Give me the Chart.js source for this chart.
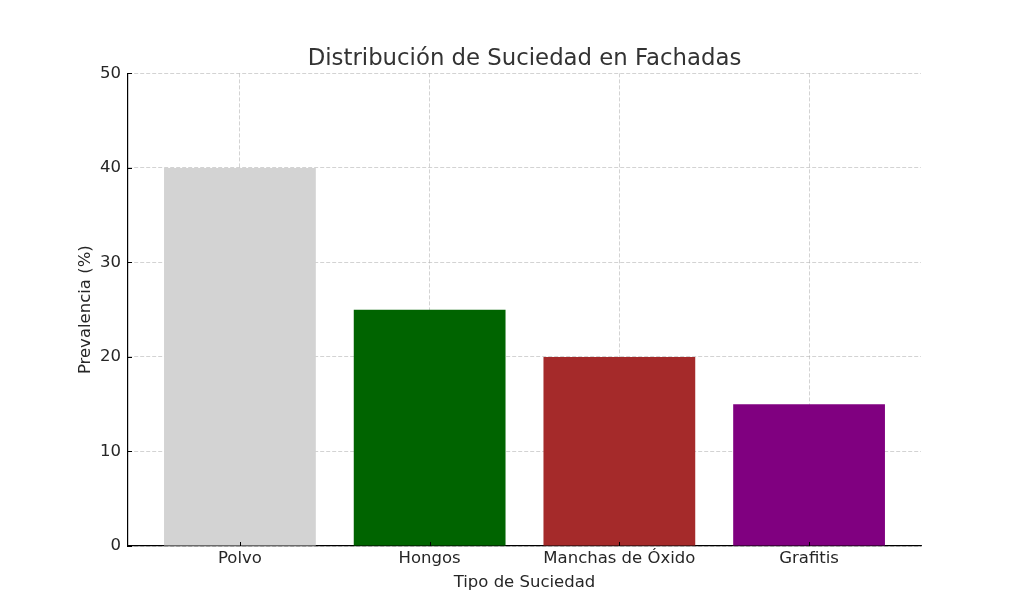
<!DOCTYPE html>
<html>
<head>
<meta charset="utf-8">
<script src="https://cdn.jsdelivr.net/npm/chart.js@4/dist/chart.umd.min.js"></script>
<style>
  html, body { margin: 0; padding: 0; background: #ffffff; }
  #wrap { width: 1024px; height: 614px; position: relative; }
</style>
</head>
<body>
<div id="wrap"><canvas id="c" width="1024" height="614"></canvas></div>
<script>
const categories = ["Polvo", "Hongos", "Manchas de Óxido", "Grafitis"];
const prevalence = [40, 25, 20, 15];
const barColors = ["#d3d3d3", "#006400", "#a52a2a", "#800080"];
const yTicks = [0, 10, 20, 30, 40, 50];

const FONT = "'DejaVu Sans', sans-serif";
const gridColor = "rgba(176,176,176,0.7)";

// inward tick marks (matplotlib-like), positioned through the chart's own scales
const inwardTicks = {
  id: "inwardTicks",
  afterDraw(chart) {
    const ctx = chart.ctx;
    const { x, y } = chart.scales;
    const area = chart.chartArea;
    ctx.save();
    ctx.strokeStyle = "#000000";
    ctx.lineWidth = 1;
    x.ticks.forEach(t => {
      const px = Math.round(x.getPixelForValue(t.value)) + 0.5;
      ctx.beginPath(); ctx.moveTo(px, area.bottom); ctx.lineTo(px, area.bottom - 4); ctx.stroke();
    });
    y.ticks.forEach(t => {
      const py = Math.round(y.getPixelForValue(t.value)) + 0.5;
      ctx.beginPath(); ctx.moveTo(area.left, py); ctx.lineTo(area.left + 4, py); ctx.stroke();
    });
    ctx.restore();
  }
};

new Chart(document.getElementById("c"), {
  type: "bar",
  data: {
    datasets: [{
      data: categories.map((c, i) => ({ x: i, y: prevalence[i] })),
      backgroundColor: barColors,
      borderWidth: 0,
      barPercentage: 0.8,
      categoryPercentage: 1.0
    }]
  },
  plugins: [inwardTicks],
  options: {
    responsive: false,
    animation: false,
    events: [],
    layout: { padding: { top: 45, right: 103, bottom: 0, left: 0 } },
    plugins: {
      legend: { display: false },
      tooltip: { enabled: false },
      title: {
        display: true,
        fullSize: false,
        text: "Distribución de Suciedad en Fachadas",
        color: "#333333",
        font: { family: FONT, size: 22.8, weight: "normal" },
        padding: { top: 0, bottom: 1 }
      }
    },
    scales: {
      x: {
        type: "linear",
        min: -0.59,
        max: 3.59,
        z: 1,
        offset: false,
        afterBuildTicks: (scale) => { scale.ticks = categories.map((c, i) => ({ value: i })); },
        afterFit: (scale) => { scale.height = 68; },
        ticks: {
          callback: (v) => categories[v],
          color: "#262626",
          font: { family: FONT, size: 16.5 },
          padding: 3,
          maxRotation: 0,
          autoSkip: false
        },
        grid: {
          offset: false,
          color: gridColor,
          lineWidth: 0.8,
          drawTicks: false
        },
        border: { display: true, color: "#000000", width: 1.2, dash: [4, 2] },
        title: {
          display: true,
          text: "Tipo de Suciedad",
          color: "#262626",
          font: { family: FONT, size: 16.5 },
          padding: { top: 0, bottom: 21 }
        }
      },
      y: {
        min: 0,
        max: 50,
        z: 1,
        afterBuildTicks: (scale) => { scale.ticks = yTicks.map(v => ({ value: v })); },
        afterFit: (scale) => { scale.width = 128; },
        ticks: {
          color: "#262626",
          font: { family: FONT, size: 16.5 },
          padding: 7
        },
        grid: {
          color: gridColor,
          lineWidth: 0.8,
          drawTicks: false
        },
        border: { display: true, color: "#000000", width: 1.2, dash: [4, 2] },
        title: {
          display: true,
          text: "Prevalencia (%)",
          color: "#262626",
          font: { family: FONT, size: 16.5 },
          padding: { top: 76, bottom: 0 }
        }
      }
    }
  }
});
</script>
</body>
</html>
